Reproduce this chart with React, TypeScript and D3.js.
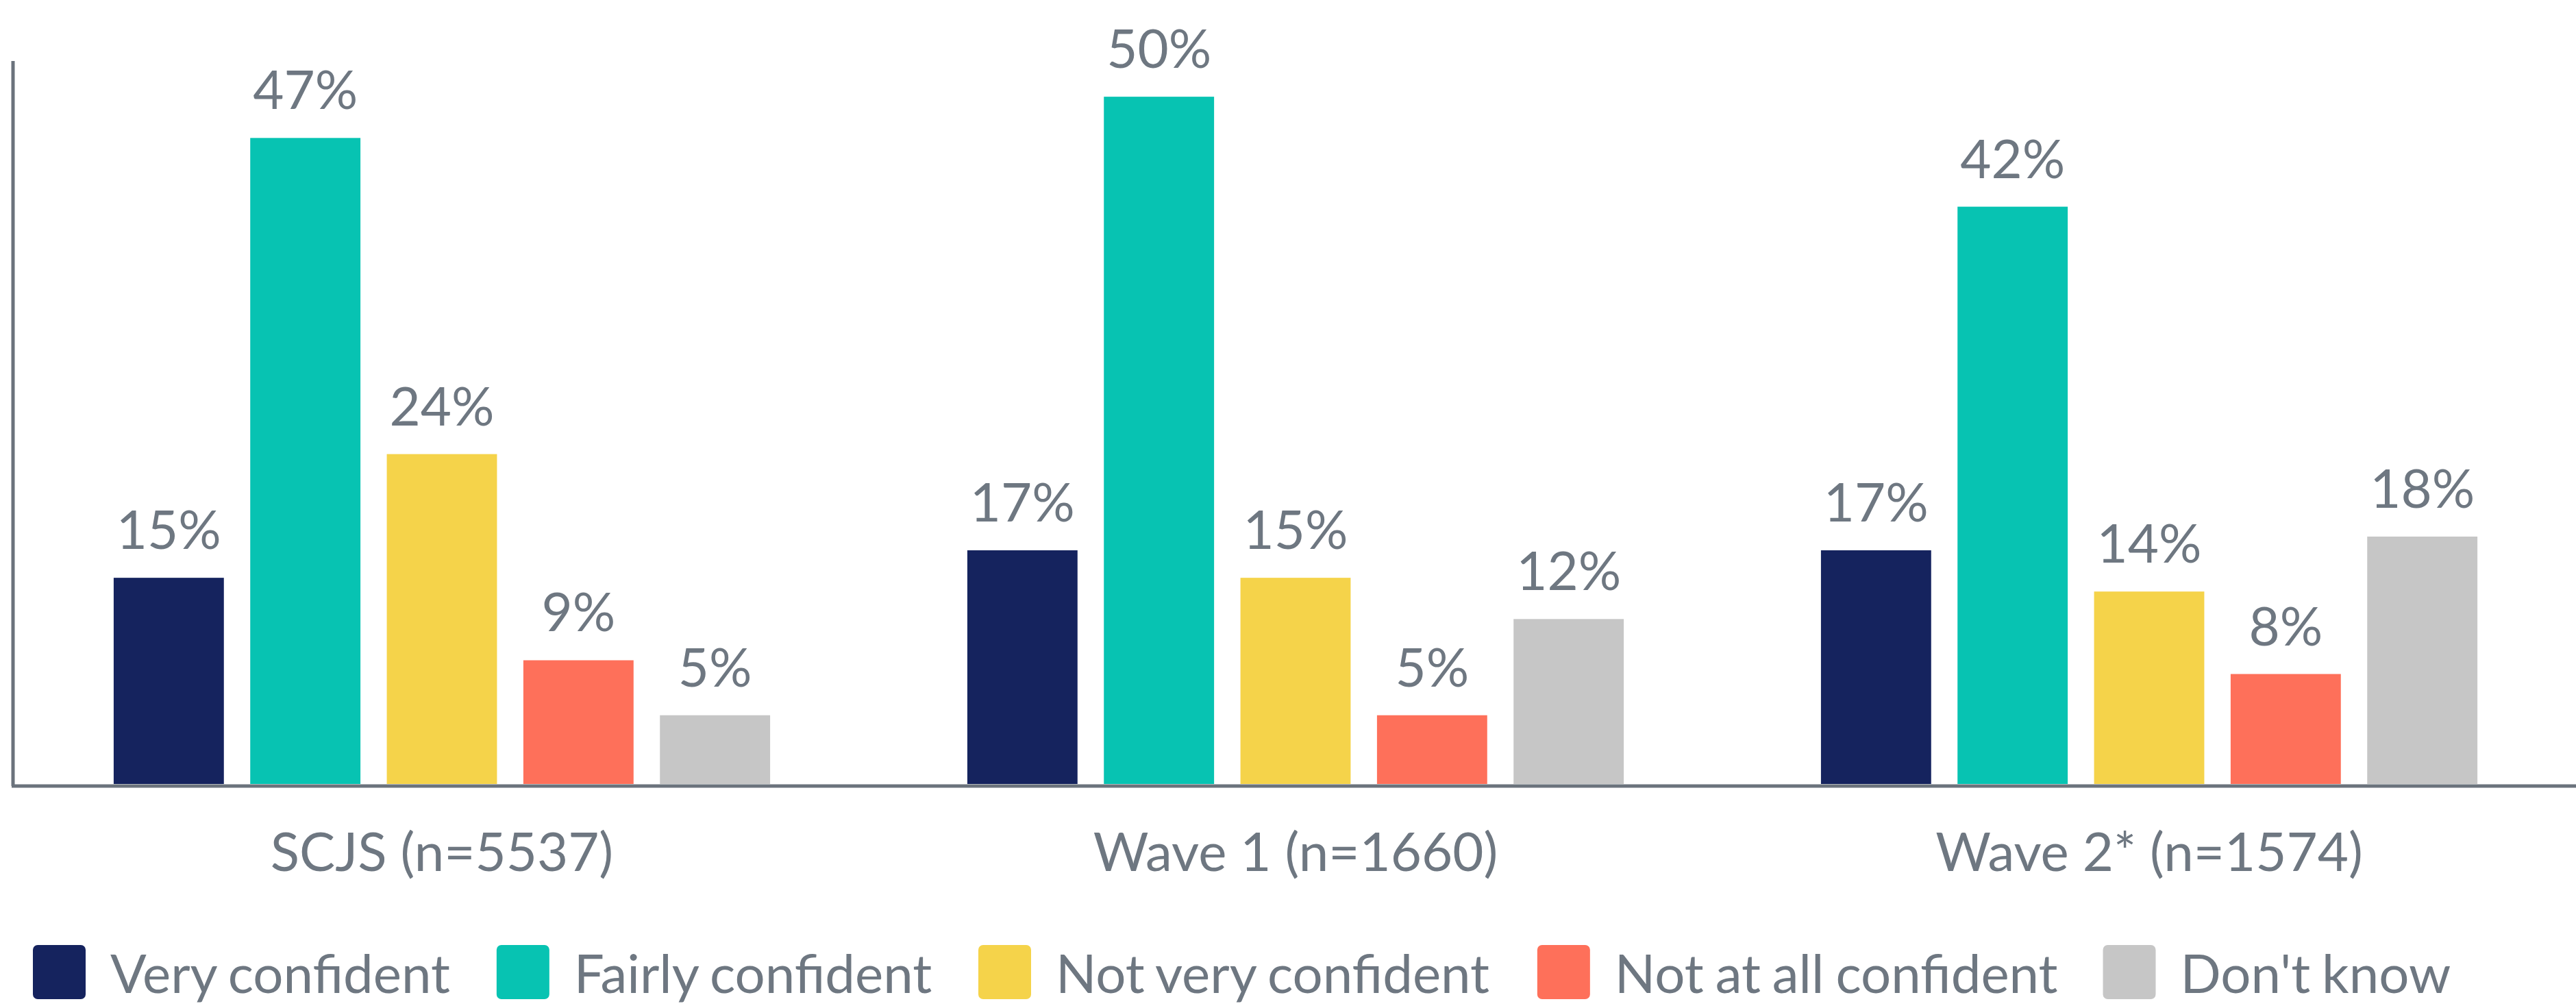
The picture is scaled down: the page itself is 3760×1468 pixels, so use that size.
import React from "react";
import * as d3 from "d3";

const width = 3760;
const height = 1468;
const margin = { top: 89, right: 0, bottom: 324, left: 22 };

const categories = ["SCJS (n=5537)", "Wave 1 (n=1660)", "Wave 2* (n=1574)"];
const seriesNames = [
  "Very confident",
  "Fairly confident",
  "Not very confident",
  "Not at all confident",
  "Don't know"
];
const colors = ["#15235e", "#07c3b2", "#f5d34a", "#fe705a", "#c6c6c6"];

// values per category, in the order of seriesNames
const scjs = [15, 47, 24, 9, 5];
const wave1 = [17, 50, 15, 5, 12];
const wave2 = [17, 42, 14, 8, 18];
const values = [scjs, wave1, wave2];

const textColor = "#6e7781";
const axisColor = "#6b737c";
const font = "Lato, 'Noto Sans', sans-serif";
const fontSize = 78;
const legendWordSpacing = -3;

function measure(text: string, size: number) {
  const ctx = document.createElement("canvas").getContext("2d");
  const spaces = (text.match(/ /g) || []).length;
  if (!ctx) return text.length * size * 0.5;
  ctx.font = `${size}px Lato`;
  return ctx.measureText(text).width + spaces * legendWordSpacing;
}

export default function App() {
  const x0 = d3
    .scaleBand()
    .domain(categories)
    .range([margin.left, width - margin.right])
    .paddingInner(0.231)
    .paddingOuter(0.1155);

  const x1 = d3
    .scaleBand()
    .domain(seriesNames)
    .range([0, x0.bandwidth()])
    .paddingInner(0.193)
    .paddingOuter(0);

  const y = d3
    .scaleLinear()
    .domain([0, 52.6])
    .range([height - margin.bottom, margin.top]);

  // legend flow layout
  const sq = 77;
  const legendY = 1379;
  let lx = 48;
  const legend = seriesNames.map((name, i) => {
    const item = { name, color: colors[i], x: lx };
    lx += sq + 36 + measure(name, fontSize) + 66;
    return item;
  });

  return (
    <svg
      width={width}
      height={height}
      style={{ position: "absolute", left: 0, top: 0, background: "#fff" }}
      fontFamily={font}
    >
      {categories.map((cat, ci) => (
        <g key={cat} transform={`translate(${x0(cat)},0)`}>
          {values[ci].map((v, si) => (
            <g key={seriesNames[si]}>
              <rect
                x={x1(seriesNames[si])}
                y={y(v)}
                width={x1.bandwidth()}
                height={y(0) - y(v)}
                fill={colors[si]}
              />
              <text
                x={(x1(seriesNames[si]) || 0) + x1.bandwidth() / 2}
                y={y(v) - 42}
                textAnchor="middle"
                fontSize={fontSize}
                fill={textColor}
              >
                {v}%
              </text>
            </g>
          ))}
          <text
            x={x0.bandwidth() / 2}
            y={1271}
            textAnchor="middle"
            fontSize={fontSize}
            fill={textColor}
          >
            {cat}
          </text>
        </g>
      ))}

      {/* axes */}
      <line
        x1={19}
        x2={19}
        y1={margin.top}
        y2={y(0) + 3}
        stroke={axisColor}
        strokeWidth={5}
      />
      <line
        x1={17}
        x2={width}
        y1={y(0) + 3}
        y2={y(0) + 3}
        stroke={axisColor}
        strokeWidth={5}
      />

      {/* legend */}
      {legend.map(d => (
        <g key={d.name} transform={`translate(${d.x},${legendY})`}>
          <rect width={sq} height={79} rx={7} fill={d.color} />
          <text
            x={sq + 36}
            y={70}
            fontSize={fontSize}
            wordSpacing={legendWordSpacing}
            fill={textColor}
          >
            {d.name}
          </text>
        </g>
      ))}
    </svg>
  );
}
